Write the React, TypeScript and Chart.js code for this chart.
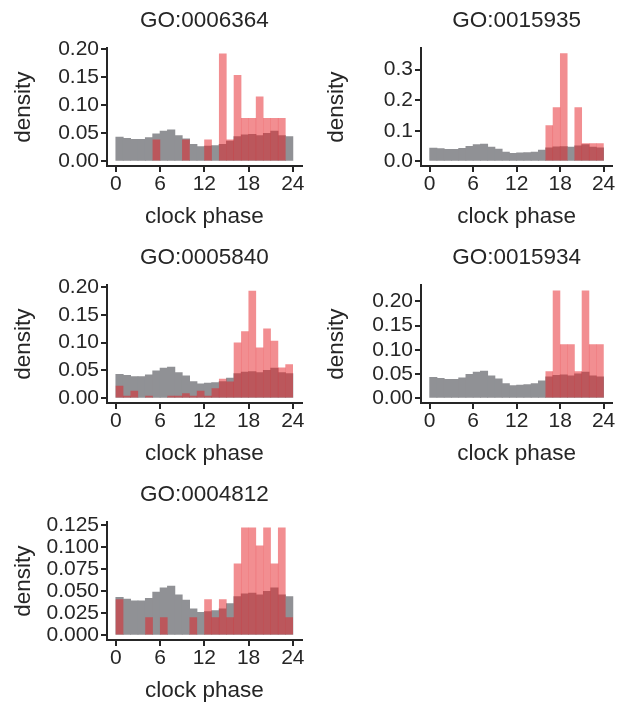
import React, { useEffect, useRef } from "react";
import { Chart, registerables } from "chart.js";

Chart.register(...registerables);
Chart.defaults.font.family = "'Liberation Sans', Arial, Helvetica, sans-serif";

// ---- data ----
const binCenters = [0.5, 1.5, 2.5, 3.5, 4.5, 5.5, 6.5, 7.5, 8.5, 9.5, 10.5, 11.5, 12.5, 13.5, 14.5, 15.5, 16.5, 17.5, 18.5, 19.5, 20.5, 21.5, 22.5, 23.5];
const xTickValues = [0, 6, 12, 18, 24];
const xTickLabels = ["0", "6", "12", "18", "24"];

// all genes (grey background distribution)
const backgroundDensity = [0.043, 0.041, 0.039, 0.039, 0.042, 0.049, 0.054, 0.056, 0.046, 0.040, 0.030, 0.026, 0.027, 0.028, 0.030, 0.036, 0.044, 0.047, 0.048, 0.046, 0.050, 0.054, 0.046, 0.044];

const titles = ["GO:0006364", "GO:0015935", "GO:0005840", "GO:0015934", "GO:0004812"];

const go0006364 = [0, 0, 0, 0, 0, 0.0385, 0, 0, 0, 0.0385, 0, 0, 0.0385, 0, 0.1923, 0.0385, 0.1538, 0.0769, 0.0769, 0.1154, 0.0769, 0.0769, 0.0769, 0];
const go0015935 = [0, 0, 0, 0, 0, 0, 0, 0, 0, 0, 0, 0, 0, 0, 0, 0, 0.1176, 0.1765, 0.3529, 0, 0.1765, 0.0588, 0.0588, 0.0588];
const go0005840 = [0.022, 0.0044, 0.0132, 0, 0.0044, 0, 0, 0.0044, 0.0044, 0.0088, 0.0044, 0.0132, 0.0044, 0.0176, 0.035, 0.030, 0.100, 0.120, 0.193, 0.091, 0.125, 0.103, 0.055, 0.061];
const go0015934 = [0, 0, 0, 0, 0, 0, 0, 0, 0, 0, 0, 0, 0, 0, 0, 0, 0.0556, 0.2222, 0.1111, 0.1111, 0.0556, 0.2222, 0.1111, 0.1111];
const go0004812 = [0.0408, 0, 0, 0, 0.0204, 0, 0.0204, 0, 0, 0, 0.0204, 0, 0.0408, 0.0204, 0.0408, 0.0204, 0.0816, 0.1224, 0.1224, 0.1020, 0.1224, 0.0816, 0.1224, 0.0204];

const yTicksA = [0, 0.05, 0.1, 0.15, 0.2];
const yLabelsA = ["0.00", "0.05", "0.10", "0.15", "0.20"];
const yTicksB = [0, 0.1, 0.2, 0.3];
const yLabelsB = ["0.0", "0.1", "0.2", "0.3"];
const yTicksC = [0, 0.025, 0.05, 0.075, 0.1, 0.125];
const yLabelsC = ["0.000", "0.025", "0.050", "0.075", "0.100", "0.125"];
const yMaxes = [0.202, 0.37, 0.203, 0.233, 0.1286];

// ---- styles ----
const GRAY = "rgb(144,145,149)";
const RED = "rgba(230,30,36,0.5)";
const AXIS = "#262626";
const TEXT = "#262626";

const CANVAS_H = 237;
const X_AXIS_H = 71;
const TITLE_SIZE = 22.5;
const LABEL_SIZE = 22.5;
const TICK_SIZE = 21;

type PanelProps = {
  title: string;
  red: number[];
  yTicks: number[];
  yLabels: string[];
  yMax: number;
  left: number;
  top: number;
  width: number;
  axisWidth: number;
  padRight: number;
  yTitlePad: number;
};

function Panel(p: PanelProps) {
  const ref = useRef<HTMLCanvasElement>(null);
  useEffect(() => {
    const chart = new Chart(ref.current as HTMLCanvasElement, {
      type: "bar",
      data: {
        datasets: [
          {
            // empty bins are left out so nothing is drawn for them
            data: binCenters.map((x, i) => ({ x, y: p.red[i] === 0 ? null : p.red[i] })),
            backgroundColor: RED,
            inflateAmount: 0.15,
          },
          {
            data: binCenters.map((x, i) => ({ x, y: backgroundDensity[i] })),
            backgroundColor: GRAY,
            inflateAmount: 0.4,
          },
        ],
      },
      options: {
        animation: false,
        responsive: false,
        devicePixelRatio: 1,
        layout: { padding: { left: 0, right: p.padRight, top: 0, bottom: 0 } },
        datasets: {
          bar: {
            barPercentage: 1,
            categoryPercentage: 1,
            grouped: false,
            borderWidth: 0,
          },
        },
        plugins: {
          legend: { display: false },
          tooltip: { enabled: false },
          title: {
            display: true,
            text: p.title,
            fullSize: false,
            color: TEXT,
            font: { size: TITLE_SIZE, weight: "normal", lineHeight: 1.2 },
            padding: { top: 7.3, bottom: 14 },
          },
        },
        scales: {
          x: {
            type: "linear",
            offset: false,
            min: -1.2,
            max: 25.2,
            afterBuildTicks: (s: any) => {
              s.ticks = xTickValues.map((v) => ({ value: v }));
            },
            afterFit: (s: any) => {
              s.height = X_AXIS_H;
            },
            grid: { display: true, offset: false, drawOnChartArea: false, drawTicks: true, tickLength: 6, color: AXIS, lineWidth: 2 },
            border: { display: true, color: AXIS, width: 2 },
            ticks: {
              color: TEXT,
              font: { size: TICK_SIZE, lineHeight: 1 },
              padding: 1.5,
              maxRotation: 0,
              autoSkip: false,
              callback: (_v: any, i: number) => xTickLabels[i],
            },
            title: {
              display: true,
              text: "clock phase",
              color: TEXT,
              font: { size: LABEL_SIZE, lineHeight: 1.2 },
              padding: { top: 0, bottom: 6.5 },
            },
          },
          y: {
            type: "linear",
            min: -p.yMax * 0.042,
            max: p.yMax,
            afterBuildTicks: (s: any) => {
              s.ticks = p.yTicks.map((v) => ({ value: v }));
            },
            afterFit: (s: any) => {
              s.width = p.axisWidth;
            },
            grid: { display: true, drawOnChartArea: false, drawTicks: true, tickLength: 6, color: AXIS, lineWidth: 2 },
            border: { display: true, color: AXIS, width: 2 },
            ticks: {
              color: TEXT,
              font: { size: TICK_SIZE, lineHeight: 1 },
              padding: 2,
              autoSkip: false,
              callback: (_v: any, i: number) => p.yLabels[i],
            },
            title: {
              display: true,
              text: "density",
              color: TEXT,
              font: { size: LABEL_SIZE, lineHeight: 1.2 },
              padding: { top: p.yTitlePad, bottom: 0 },
            },
          },
        },
      } as any,
    });
    return () => chart.destroy();
  }, []);
  return (
    <canvas
      ref={ref}
      width={p.width}
      height={CANVAS_H}
      style={{ position: "absolute", left: p.left, top: p.top }}
    />
  );
}

const colLeft = [0, 308];
const colWidth = [308, 309];
const colAxisWidth = [107, 113];
const colPadRight = [6.3, 3];
const colTitlePad = [10, 15.5];
const rowTop = [0, 237, 474];

export default function App() {
  const reds = [go0006364, go0015935, go0005840, go0015934, go0004812];
  const yT = [yTicksA, yTicksB, yTicksA, yTicksA, yTicksC];
  const yL = [yLabelsA, yLabelsB, yLabelsA, yLabelsA, yLabelsC];
  return (
    <div
      style={{
        position: "fixed",
        left: 0,
        top: 0,
        width: 617,
        height: 703,
        overflow: "hidden",
        background: "#ffffff",
      }}
    >
      {titles.map((t, i) => {
        const c = i % 2;
        const r = Math.floor(i / 2);
        return (
          <Panel
            key={t}
            title={t}
            red={reds[i]}
            yTicks={yT[i]}
            yLabels={yL[i]}
            yMax={yMaxes[i]}
            left={colLeft[c]}
            top={rowTop[r]}
            width={colWidth[c]}
            axisWidth={colAxisWidth[c]}
            padRight={colPadRight[c]}
            yTitlePad={colTitlePad[c]}
          />
        );
      })}
    </div>
  );
}
